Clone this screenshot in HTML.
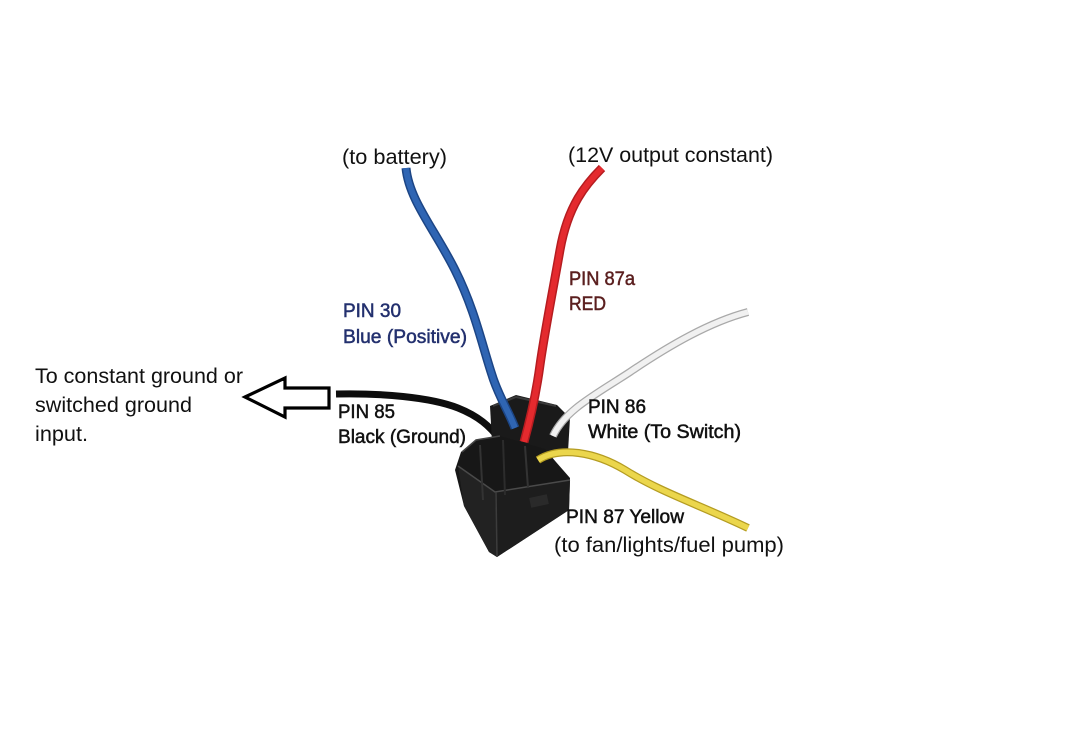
<!DOCTYPE html>
<html>
<head>
<meta charset="utf-8">
<style>
html,body{margin:0;padding:0;background:#fff;}
svg{display:block;}
text{font-family:"Liberation Sans",sans-serif;}
</style>
</head>
<body>
<svg width="1087" height="752" viewBox="0 0 1087 752" xmlns="http://www.w3.org/2000/svg">
<rect width="1087" height="752" fill="#fff"/>

<!-- big labels -->
<text x="342" y="164" font-size="21" fill="#111" textLength="105" lengthAdjust="spacingAndGlyphs">(to battery)</text>
<text x="568" y="162" font-size="21" fill="#111" textLength="205" lengthAdjust="spacingAndGlyphs">(12V output constant)</text>
<text x="35" y="383" font-size="21" fill="#111" textLength="208" lengthAdjust="spacingAndGlyphs">To constant ground or</text>
<text x="35" y="412" font-size="21" fill="#111" textLength="157" lengthAdjust="spacingAndGlyphs">switched ground</text>
<text x="35" y="441" font-size="21" fill="#111" textLength="53" lengthAdjust="spacingAndGlyphs">input.</text>
<text x="554" y="552" font-size="21" fill="#111" textLength="230" lengthAdjust="spacingAndGlyphs">(to fan/lights/fuel pump)</text>

<!-- arrow -->
<polygon points="245,397 285,378 285,388 329,388 329,408 285,408 285,417" fill="#fff" stroke="#000" stroke-width="3.2" stroke-linejoin="miter"/>

<!-- black wire -->
<path d="M336,394 C380,393 430,397 458,408 C478,416 490,426 500,440" fill="none" stroke="#0d0d0d" stroke-width="7" stroke-linecap="butt"/>

<!-- upper block of connector -->
<polygon points="490,406 516,395 557,405 570,418 568,452 540,462 492,442" fill="#1a1a1a"/>
<polyline points="493,406 516,397 556,406" fill="none" stroke="#3a3a3a" stroke-width="2"/>

<!-- blue wire -->
<path d="M406,168 C409,200 435,230 455,270 C475,310 482,345 492,375 C498,395 508,410 515,428" fill="none" stroke="#1c4585" stroke-width="9" stroke-linecap="butt"/>
<path d="M406,168 C409,200 435,230 455,270 C475,310 482,345 492,375 C498,395 508,410 515,428" fill="none" stroke="#2f65b3" stroke-width="6" stroke-linecap="butt"/>

<!-- red wire -->
<path d="M602,168 C586,184 568,205 560,250 C553,290 545,330 540,365 C536,395 530,420 524,442" fill="none" stroke="#b51c20" stroke-width="9" stroke-linecap="butt"/>
<path d="M602,168 C586,184 568,205 560,250 C553,290 545,330 540,365 C536,395 530,420 524,442" fill="none" stroke="#e42a2e" stroke-width="6" stroke-linecap="butt"/>

<!-- white wire -->
<path d="M748,312 C710,322 670,345 630,372 C595,395 565,410 553,436" fill="none" stroke="#a9a9a9" stroke-width="8" stroke-linecap="butt"/>
<path d="M748,312 C710,322 670,345 630,372 C595,395 565,410 553,436" fill="none" stroke="#f1f1f1" stroke-width="5.5" stroke-linecap="butt"/>

<!-- lower body -->
<polygon points="476,440 500,436 545,449 556,462 570,478 569,510 497,557 489,552 464,506 455,470 461,452" fill="#171717"/>
<polygon points="458,466 495,492 497,557 489,552 464,506" fill="#222"/>
<polygon points="495,492 570,480 569,510 497,557" fill="#1d1d1d"/>
<polyline points="458,466 495,492 570,480" fill="none" stroke="#4a4a4a" stroke-width="1.5"/>
<line x1="496" y1="492" x2="497" y2="556" stroke="#3c3c3c" stroke-width="1.5"/>
<line x1="480" y1="445" x2="483" y2="500" stroke="#333" stroke-width="2"/>
<line x1="503" y1="440" x2="505" y2="495" stroke="#2c2c2c" stroke-width="2"/>
<line x1="525" y1="446" x2="528" y2="488" stroke="#333" stroke-width="2"/>
<rect x="530" y="496" width="18" height="10" fill="#2a2a2a" transform="rotate(-12 539 501)"/>
<polyline points="462,452 476,440 500,436" fill="none" stroke="#444" stroke-width="1.5"/>

<!-- yellow wire -->
<path d="M538,460 C560,446 595,452 625,470 C660,492 700,505 748,528" fill="none" stroke="#b49c22" stroke-width="8" stroke-linecap="butt"/>
<path d="M538,460 C560,446 595,452 625,470 C660,492 700,505 748,528" fill="none" stroke="#ebd64c" stroke-width="5.5" stroke-linecap="butt"/>

<!-- photo labels -->
<g font-size="19" stroke-width="0.5">
<text x="343" y="317" fill="#23306e" stroke="#23306e" textLength="58" lengthAdjust="spacingAndGlyphs">PIN 30</text>
<text x="343" y="343" fill="#23306e" stroke="#23306e" textLength="124" lengthAdjust="spacingAndGlyphs">Blue (Positive)</text>
<text x="569" y="285" fill="#5b1f1f" stroke="#5b1f1f" textLength="66" lengthAdjust="spacingAndGlyphs">PIN 87a</text>
<text x="569" y="310" fill="#5b1f1f" stroke="#5b1f1f" textLength="37" lengthAdjust="spacingAndGlyphs">RED</text>
<text x="338" y="418" fill="#111" stroke="#111" textLength="57" lengthAdjust="spacingAndGlyphs">PIN 85</text>
<text x="338" y="443" fill="#111" stroke="#111" textLength="128" lengthAdjust="spacingAndGlyphs">Black (Ground)</text>
<text x="588" y="413" fill="#111" stroke="#111" textLength="58" lengthAdjust="spacingAndGlyphs">PIN 86</text>
<text x="588" y="438" fill="#111" stroke="#111" textLength="153" lengthAdjust="spacingAndGlyphs">White (To Switch)</text>
<text x="566" y="523" fill="#111" stroke="#111" textLength="118" lengthAdjust="spacingAndGlyphs">PIN 87 Yellow</text>
</g>
</svg>
</body>
</html>
